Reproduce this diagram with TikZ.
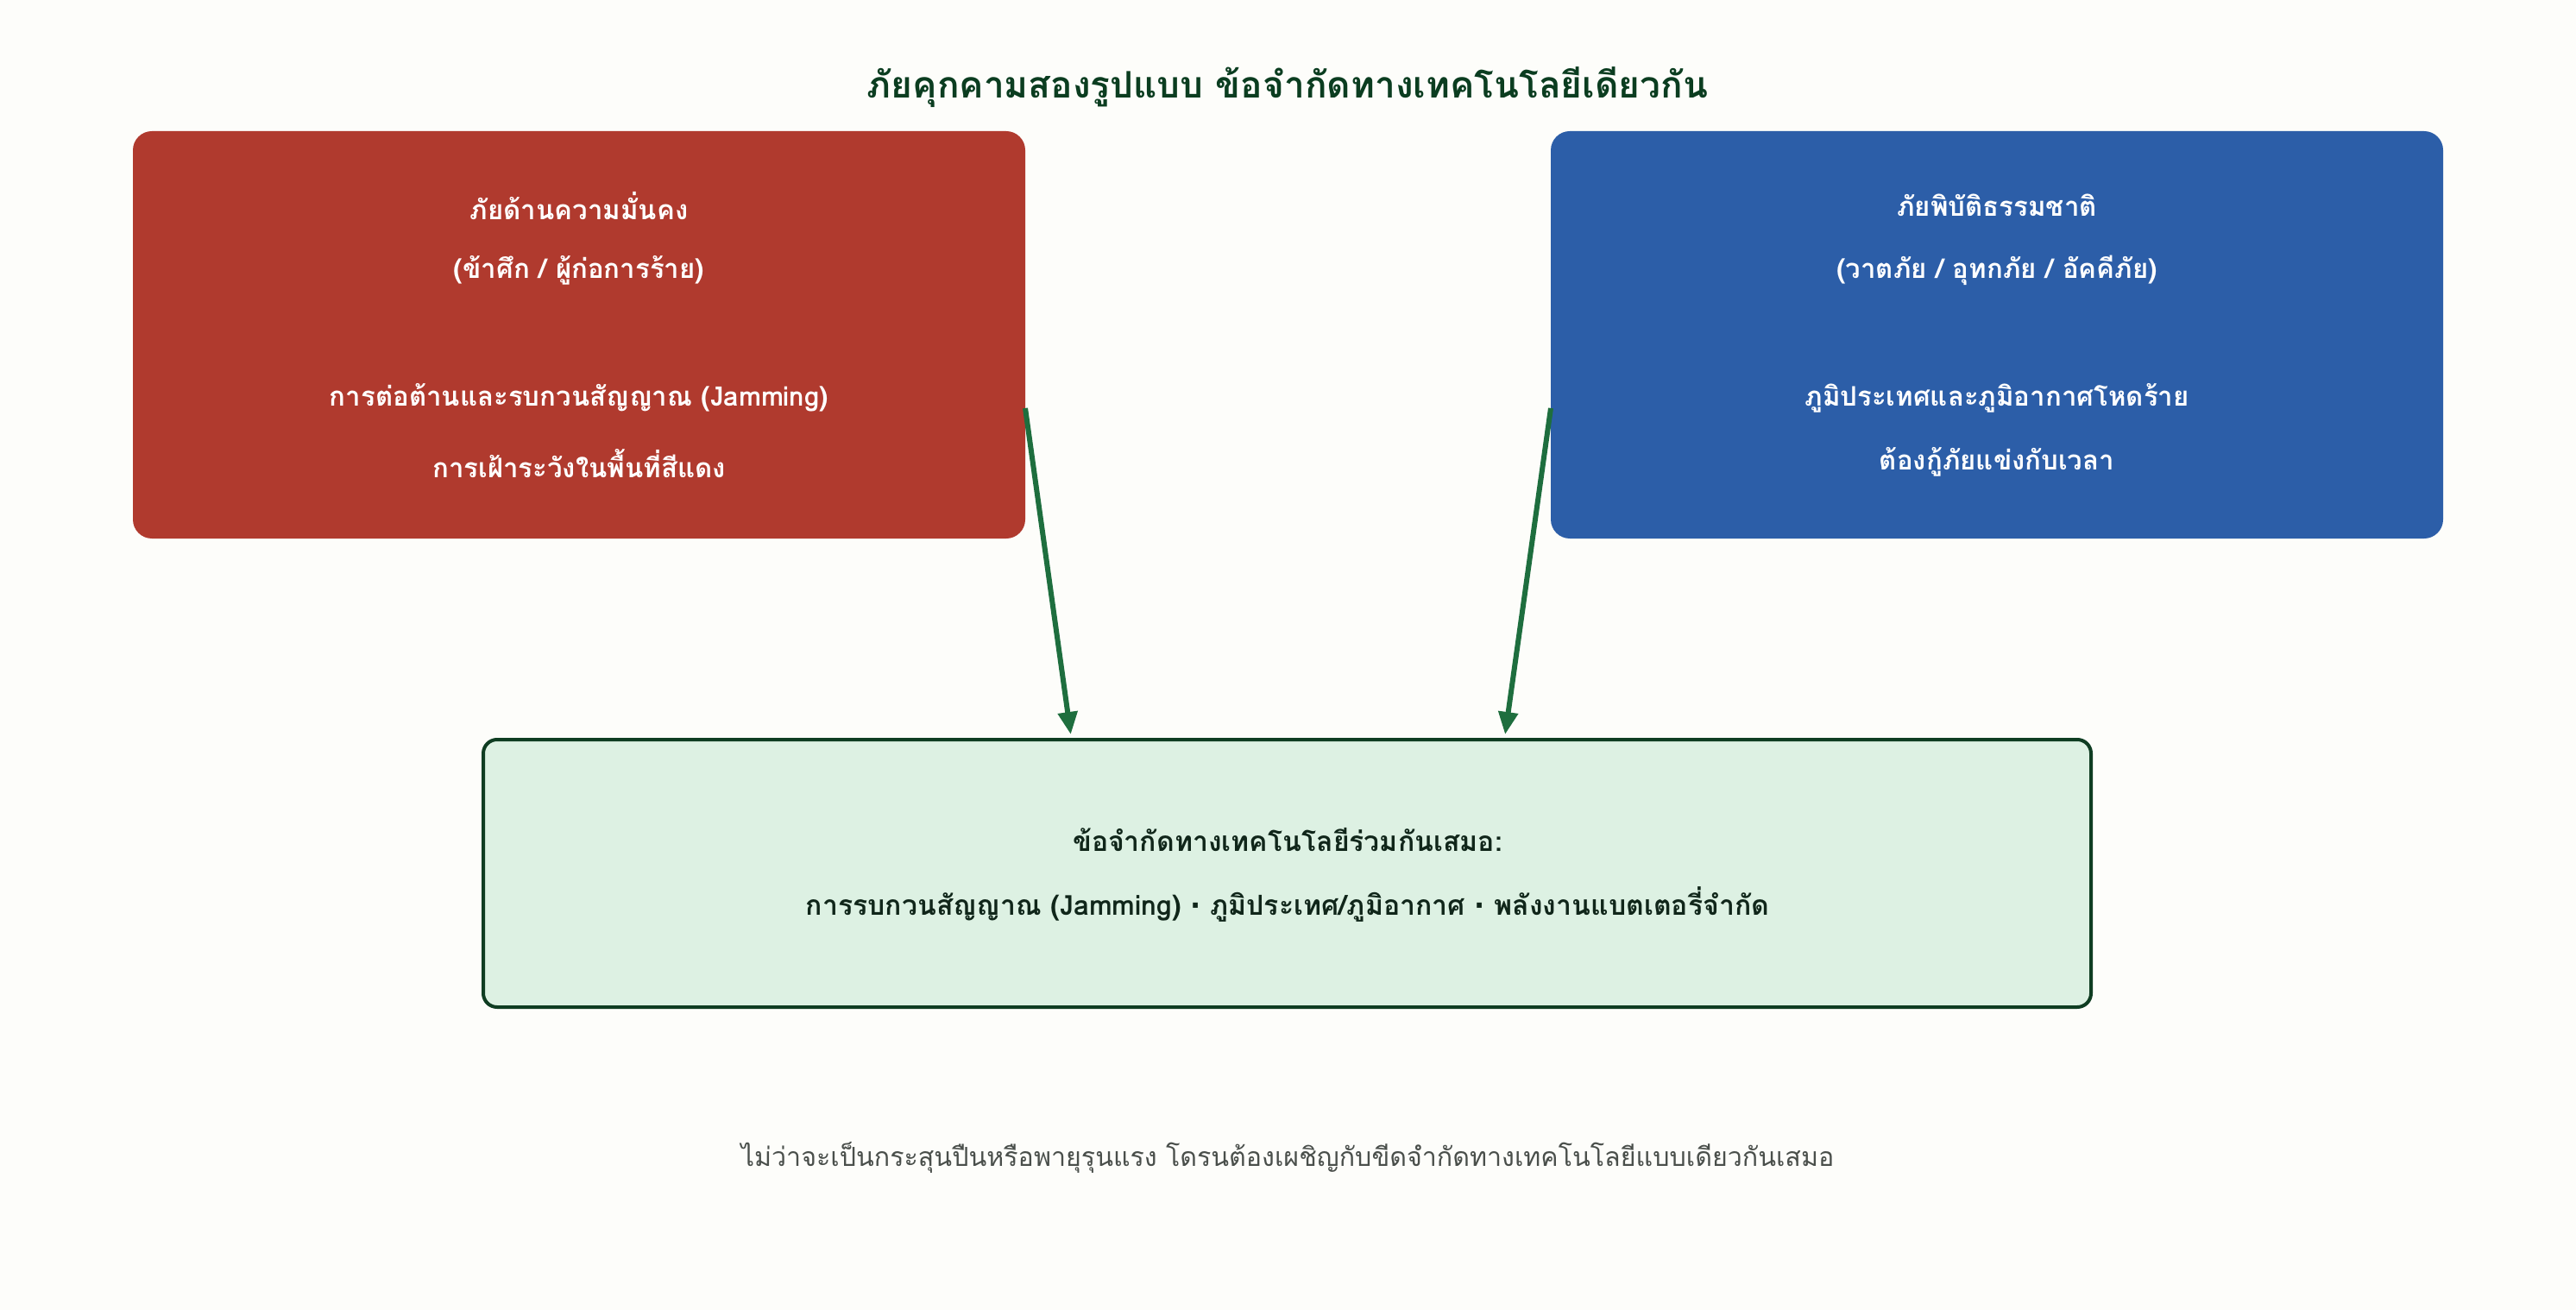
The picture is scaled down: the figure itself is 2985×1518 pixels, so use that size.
\documentclass[tikz,border=0pt]{standalone}
\usepackage{fontspec}
\newfontfamily\thaifont[Script=Thai]{Loma}
\newfontfamily\dotfont{DejaVu Sans}
\usetikzlibrary{arrows.meta,calc}
\definecolor{bgc}{HTML}{FDFDFA}
\definecolor{redc}{HTML}{B03A2E}
\definecolor{bluec}{HTML}{2C5EA8}
\definecolor{greenfill}{HTML}{DDF1E3}
\definecolor{greenline}{HTML}{0F3D22}
\definecolor{titlec}{HTML}{0B3D20}
\definecolor{arrowc}{HTML}{1E6E3E}
\definecolor{capc}{HTML}{4A4F4B}
\definecolor{darktext}{HTML}{10261A}
\newcommand{\mdot}{{\dotfont\bfseries ·}}
\begin{document}
\begin{tikzpicture}[x=0.5pt,y=-0.5pt,
  redbox/.style={rectangle,rounded corners=11pt,fill=redc,draw=none,minimum width=517pt,minimum height=236pt,inner sep=0pt,outer sep=0pt},
  bluebox/.style={rectangle,rounded corners=11pt,fill=bluec,draw=none,minimum width=517pt,minimum height=236pt,inner sep=0pt,outer sep=0pt},
  greenbox/.style={rectangle,rounded corners=8pt,fill=greenfill,draw=greenline,line width=2pt,minimum width=931.5pt,minimum height=155pt,inner sep=0pt},
  boxtext/.style={anchor=base,inner sep=0pt,text=white,font=\thaifont\bfseries\fontsize{15.6pt}{18pt}\selectfont},
  greentext/.style={anchor=base,inner sep=0pt,text=darktext,font=\thaifont\bfseries\fontsize{16pt}{19pt}\selectfont},
  titletext/.style={anchor=base,inner sep=0pt,text=titlec,font=\thaifont\bfseries\fontsize{21.2pt}{25pt}\selectfont},
  captext/.style={anchor=base,inner sep=0pt,text=capc,font=\thaifont\fontsize{15.2pt}{18pt}\selectfont},
  conn/.style={draw=arrowc,line width=3pt,-{Triangle[length=13pt,width=11pt]},shorten >=2pt}
]
\fill[bgc] (0,0) rectangle (2985,1518);
\useasboundingbox (0,0) rectangle (2985,1518);

\node[titletext] (title) at (1492,114) {ภัยคุกคามสองรูปแบบ ข้อจำกัดทางเทคโนโลยีเดียวกัน};

\node[redbox] (red) at (671,388) {};
\node[bluebox] (blue) at (2314,388) {};
\node[greenbox] (green) at (1491.5,1012) {};

\node[boxtext] (r1) at (671,255) {ภัยด้านความมั่นคง};
\node[boxtext] (r2) at (671,323) {(ข้าศึก / ผู้ก่อการร้าย)};
\node[boxtext] (r3) at (671,471) {การต่อต้านและรบกวนสัญญาณ (Jamming)};
\node[boxtext] (r4) at (671,553) {การเฝ้าระวังในพื้นที่สีแดง};

\node[boxtext] (b1) at (2314,251) {ภัยพิบัติธรรมชาติ};
\node[boxtext] (b2) at (2314,323) {(วาตภัย / อุทกภัย / อัคคีภัย)};
\node[boxtext] (b3) at (2314,471) {ภูมิประเทศและภูมิอากาศโหดร้าย};
\node[boxtext] (b4) at (2314,545) {ต้องกู้ภัยแข่งกับเวลา};

\node[greentext] (g1) at (1492,986) {ข้อจำกัดทางเทคโนโลยีร่วมกันเสมอ:};
\node[greentext] (g2) at (1492,1060) {การรบกวนสัญญาณ (Jamming) \mdot{} ภูมิประเทศ/ภูมิอากาศ \mdot{} พลังงานแบตเตอรี่จำกัด};

\node[captext] (cap) at (1492,1351) {ไม่ว่าจะเป็นกระสุนปืนหรือพายุรุนแรง โดรนต้องเผชิญกับขีดจำกัดทางเทคโนโลยีแบบเดียวกันเสมอ};

\coordinate (rs) at ($(red.north east)!0.68!(red.south east)$);
\coordinate (bs) at ($(blue.north west)!0.68!(blue.south west)$);
\coordinate (ge1) at ($(green.north west)!0.366!(green.north east)$);
\coordinate (ge2) at ($(green.north west)!0.635!(green.north east)$);
\draw[conn] (rs) -- (ge1);
\draw[conn] (bs) -- (ge2);
\end{tikzpicture}
\end{document}
